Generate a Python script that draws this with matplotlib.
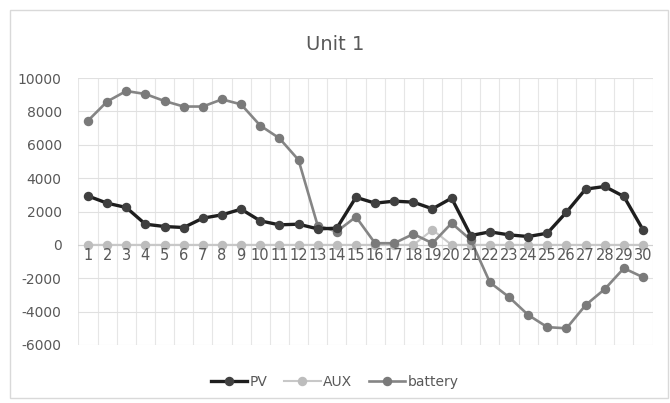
import numpy as np
import matplotlib
matplotlib.use("Agg")
import matplotlib.pyplot as plt
from matplotlib.patches import Rectangle

# data
days = list(range(1, 31))
pv = [2930, 2500, 2240, 1240, 1100, 1040, 1600, 1800, 2140, 1440,
      1200, 1240, 960, 1000, 2850, 2500, 2620, 2560, 2160, 2800,
      560, 780, 600, 500, 700, 1960, 3340, 3500, 2900, 900]
aux = [0] * 18 + [900] + [0] * 11
battery = [7440, 8590, 9220, 9040, 8620, 8290, 8290, 8720, 8420, 7150,
           6390, 5090, 1160, 800, 1680, 100, 100, 650, 100, 1300,
           300, -2250, -3130, -4200, -4930, -5000, -3610, -2650, -1400, -1940]
yticks = [-6000, -4000, -2000, 0, 2000, 4000, 6000, 8000, 10000]

txt = "#595959"
fig = plt.figure(figsize=(6.7, 4.03), dpi=100)
ax = fig.add_axes([78.4 / 670, 1 - 345 / 403, (652.6 - 78.4) / 670, (345 - 78) / 403])

# grid
for x in np.arange(0.5, 31, 1):
    ax.axvline(x, color="#e6e6e6", lw=0.8, zorder=0)
for y in yticks:
    ax.axhline(y, color="#e0e0e0", lw=0.8, zorder=0)
ax.axhline(0, color="#d0d0d0", lw=0.8, zorder=0)

ax.plot(days, pv, color="#1e1e1e", lw=2.4, marker="o", ms=5.8,
        mfc="#404040", mec="#404040", label="PV", zorder=4)
ax.plot(days, aux, color="#c8c8c8", lw=1.5, marker="o", ms=5.8,
        mfc="#bdbdbd", mec="#bdbdbd", label="AUX", zorder=2)
ax.plot(days, battery, color="#858585", lw=1.9, marker="o", ms=5.8,
        mfc="#7a7a7a", mec="#7a7a7a", label="battery", zorder=3)

ax.set_xlim(0.5, 30.5)
ax.set_ylim(-6000, 10000)
ax.set_yticks(yticks)
ax.set_yticklabels([str(v) for v in yticks], color=txt, fontsize=10)
ax.set_xticks([])
for s in ax.spines.values():
    s.set_visible(False)
ax.tick_params(axis="y", length=0, pad=12)

# category labels sit just under the zero line
for d in days:
    ax.text(d, -620, str(d), ha="center", va="center", color=txt, fontsize=10.5)

fig.text(0.5, 1 - 44 / 403, "Unit 1", ha="center", va="center", color=txt, fontsize=14)

leg = fig.legend(loc="center", bbox_to_anchor=(0.5, 1 - 382 / 403), ncol=3, frameon=False,
                 fontsize=10, handlelength=2.6, columnspacing=1.2, handletextpad=0.2)
for t in leg.get_texts():
    t.set_color(txt)

fig.patches.append(Rectangle((10 / 670, 1 - 398 / 403), 658 / 670, 388 / 403,
                             transform=fig.transFigure, fill=False, ec="#d9d9d9", lw=1))

fig.savefig("out.png", dpi=100)
